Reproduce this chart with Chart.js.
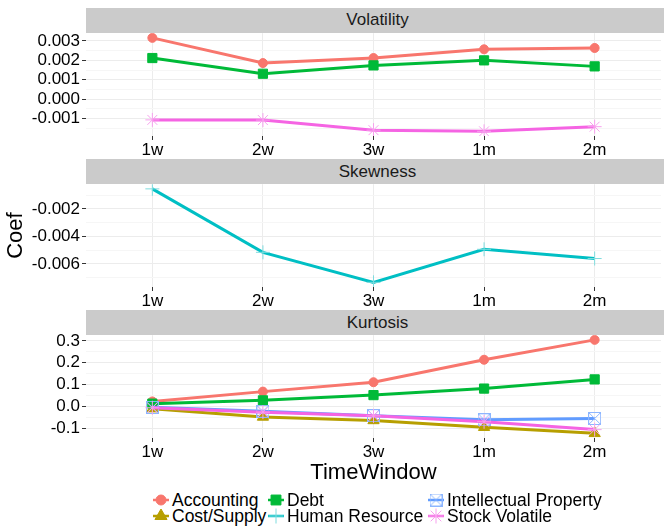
<!DOCTYPE html>
<html>
<head>
<meta charset="utf-8">
<script src="https://cdn.jsdelivr.net/npm/chart.js@4.4.1/dist/chart.umd.min.js"></script>
<style>
  html, body { margin: 0; padding: 0; background: #ffffff; overflow: hidden; width: 664px; height: 527px; }
  body { position: relative; font-family: "Liberation Sans", Arial, sans-serif; }
  canvas.panel { position: absolute; left: 0; }
  .strip { position: absolute; left: 86px; width: 583px; background: #cbcbcb; color: #1a1a1a;
           font-size: 17px; text-align: center; z-index: 5; box-sizing: border-box; }
  .leg { position: absolute; height: 16px; display: flex; align-items: center; white-space: nowrap;
         font-size: 17.5px; color: #000; }
  .leg canvas { width: 16px; height: 16px; margin-right: 3px; }
</style>
</head>
<body>
<div class="strip" id="s0">Volatility</div>
<div class="strip" id="s1">Skewness</div>
<div class="strip" id="s2">Kurtosis</div>
<canvas class="panel" id="c0"></canvas>
<canvas class="panel" id="c1"></canvas>
<canvas class="panel" id="c2"></canvas>
<div id="legend"></div>
<script>
// ---------------- data ----------------
const categories = ['1w', '2w', '3w', '1m', '2m'];
const panelTitles = ['Volatility', 'Skewness', 'Kurtosis'];
const seriesNames = ['Accounting', 'Cost/Supply', 'Debt', 'Human Resource', 'Intellectual Property', 'Stock Volatile'];

// Volatility panel
const volAccounting = [0.00316, 0.00186, 0.00212, 0.00257, 0.00264];
const volDebt       = [0.00212, 0.00131, 0.00174, 0.00200, 0.00169];
const volStock      = [-0.00107, -0.00108, -0.00160, -0.00166, -0.00142];
// Skewness panel
const skewHR        = [-0.00055, -0.00516, -0.00734, -0.00494, -0.00561];
// Kurtosis panel
const kurtAccounting = [0.023, 0.068, 0.111, 0.214, 0.305];
const kurtDebt       = [0.013, 0.028, 0.052, 0.082, 0.124];
const kurtCost       = [-0.010, -0.048, -0.064, -0.095, -0.123];
const kurtIP         = [-0.004, -0.022, -0.042, -0.061, -0.055];
const kurtStock      = [-0.006, -0.026, -0.043, -0.070, -0.106];

// tick labels
const volTicks  = [-0.001, 0.000, 0.001, 0.002, 0.003];
const skewTicks = [-0.006, -0.004, -0.002];
const kurtTicks = [-0.1, 0.0, 0.1, 0.2, 0.3];

// ---------------- styles ----------------
const FONT = '"Liberation Sans", Arial, sans-serif';
const colors = {
  'Accounting': '#F8766D', 'Cost/Supply': '#B79F00', 'Debt': '#00BA38',
  'Human Resource': '#00BFC4', 'Intellectual Property': '#619CFF', 'Stock Volatile': '#F564E3'
};
// custom "square with X" symbol for Intellectual Property
function makeBoxCross(size, color) {
  const c = document.createElement('canvas');
  c.width = size; c.height = size;
  const g = c.getContext('2d');
  g.strokeStyle = color; g.lineWidth = 1;
  g.strokeRect(0.5, 0.5, size - 1, size - 1);
  g.beginPath();
  g.moveTo(0.5, 0.5); g.lineTo(size - 0.5, size - 0.5);
  g.moveTo(size - 0.5, 0.5); g.lineTo(0.5, size - 0.5);
  g.stroke();
  return c;
}
const ipSymbol = makeBoxCross(13, '#8DB6FF');
const pointStyles = {
  'Accounting':            { style: 'circle',   r: 4.5, bw: 1, fill: true },
  'Cost/Supply':           { style: 'triangle', r: 6.5, bw: 1, fill: true },
  'Debt':                  { style: 'rect',     r: 6.5, bw: 1, fill: true },
  'Human Resource':        { style: 'cross',    r: 7,   bw: 1, fill: false, pc: '#7FDCDE' },
  'Intellectual Property': { style: ipSymbol,   r: 6.5, bw: 1, fill: false },
  'Stock Volatile':        { style: 'star',     r: 7,   bw: 1, fill: false, pc: '#F7A0EE' }
};

function ds(name, values) {
  const p = pointStyles[name];
  const col = colors[name];
  return {
    label: name,
    data: values.map((v, i) => ({ x: i, y: v })),
    borderColor: col,
    borderWidth: 3,
    backgroundColor: col,
    pointStyle: p.style,
    pointRadius: p.r,
    pointHoverRadius: p.r,
    pointBorderWidth: p.bw,
    pointBorderColor: p.pc || col,
    pointBackgroundColor: p.fill ? col : 'rgba(0,0,0,0)',
    tension: 0,
    fill: false
  };
}

// ---------------- layout ----------------
const stripTop = [8, 159, 310];
const plotTop = [32.5, 184, 335];
const plotH = 103;
const padTop = 12;
const xAxisH = [24, 24, 48];

panelTitles.forEach((t, i) => {
  const s = document.getElementById('s' + i);
  s.style.top = stripTop[i] + 'px';
  s.style.height = (plotTop[i] - stripTop[i]) + 'px';
  s.style.lineHeight = (plotTop[i] - stripTop[i]) + 'px';
});

function makePanel(i, datasets, majorTicks, decimals, yTitle, xTitle) {
  const canvas = document.getElementById('c' + i);
  const H = padTop + plotH + xAxisH[i];
  canvas.width = 669; canvas.height = H;
  canvas.style.width = '669px'; canvas.style.height = H + 'px';
  canvas.style.top = (plotTop[i] - padTop) + 'px';

  const all = datasets.flatMap(d => d.data.map(p => p.y));
  const lo = Math.min(...all), hi = Math.max(...all);
  const ex = (hi - lo) * 0.05;
  const ymin = lo - ex, ymax = hi + ex;
  const step = majorTicks[1] - majorTicks[0];
  const tickList = [];
  majorTicks.forEach(t => tickList.push({ value: t, minor: false }));
  const cand = new Set();
  majorTicks.forEach(t => { cand.add(+(t - step / 2).toFixed(8)); cand.add(+(t + step / 2).toFixed(8)); });
  cand.forEach(v => { if (v > ymin && v < ymax) tickList.push({ value: v, minor: true }); });
  tickList.sort((a, b) => a.value - b.value);

  return new Chart(canvas, {
    type: 'line',
    data: { datasets: datasets },
    options: {
      responsive: false,
      animation: false,
      devicePixelRatio: 1,
      layout: { padding: { top: padTop, left: 0, right: 0, bottom: 0 } },
      plugins: { legend: { display: false }, tooltip: { enabled: false } },
      scales: {
        x: {
          type: 'linear', min: -0.6, max: 4.6,
          afterBuildTicks: s => { s.ticks = categories.map((c, k) => ({ value: k })); },
          afterFit: s => { s.height = xAxisH[i]; },
          ticks: {
            callback: v => categories[v] !== undefined ? categories[v] : '',
            font: { family: FONT, size: 17 }, color: '#000', padding: 0,
            autoSkip: false, maxRotation: 0
          },
          grid: { color: '#ececec', lineWidth: 1, drawTicks: true, tickLength: 4, tickColor: '#333' },
          border: { display: false },
          title: xTitle ? { display: true, text: xTitle, font: { family: FONT, size: 22 }, color: '#000', padding: { top: 0, bottom: 0 } } : { display: false }
        },
        y: {
          type: 'linear', min: ymin, max: ymax,
          afterBuildTicks: s => { s.ticks = tickList.map(t => ({ value: t.value, minor: t.minor })); },
          afterFit: s => { s.width = 86; },
          ticks: {
            callback: (v, idx, ticks) => ticks[idx].minor ? '' : Number(v).toFixed(decimals),
            font: { family: FONT, size: 17 }, color: '#000', padding: 2, autoSkip: false
          },
          grid: {
            color: ctx => (ctx.tick && ctx.tick.minor) ? '#f6f6f6' : '#ececec',
            tickColor: ctx => (ctx.tick && ctx.tick.minor) ? 'rgba(0,0,0,0)' : '#333',
            lineWidth: 1, drawTicks: true, tickLength: 4
          },
          border: { display: false },
          title: yTitle ? { display: true, text: yTitle, font: { family: FONT, size: 22 }, color: '#000', padding: { top: 3, bottom: 0 } } : { display: false }
        }
      }
    }
  });
}

// dataset 0 is drawn on top in Chart.js, so list later factor levels first
makePanel(0, [ds('Stock Volatile', volStock), ds('Debt', volDebt), ds('Accounting', volAccounting)], volTicks, 3, null, null);
makePanel(1, [ds('Human Resource', skewHR)], skewTicks, 3, 'Coef', null);
makePanel(2, [ds('Stock Volatile', kurtStock), ds('Intellectual Property', kurtIP), ds('Debt', kurtDebt),
              ds('Cost/Supply', kurtCost), ds('Accounting', kurtAccounting)], kurtTicks, 1, null, 'TimeWindow');

// ---------------- legend ----------------
const legendLayout = [
  { name: 'Accounting', x: 153, y: 500 },
  { name: 'Cost/Supply', x: 153, y: 516 },
  { name: 'Debt', x: 268, y: 500 },
  { name: 'Human Resource', x: 268, y: 516 },
  { name: 'Intellectual Property', x: 428, y: 500 },
  { name: 'Stock Volatile', x: 428, y: 516 }
];
const legend = document.getElementById('legend');
legendLayout.forEach(item => {
  const d = document.createElement('div');
  d.className = 'leg';
  d.style.left = item.x + 'px';
  d.style.top = (item.y - 8) + 'px';
  const c = document.createElement('canvas');
  c.width = 16; c.height = 16;
  const g = c.getContext('2d');
  const col = colors[item.name];
  const p = pointStyles[item.name];
  g.strokeStyle = col; g.lineWidth = 2.5;
  g.beginPath(); g.moveTo(0, 8); g.lineTo(16, 8); g.stroke();
  g.fillStyle = col; g.strokeStyle = p.pc || col; g.lineWidth = p.bw;
  Chart.helpers.drawPoint(g, { pointStyle: p.style, radius: p.r + 0.5, rotation: 0, borderWidth: p.bw }, 8, 8);
  const span = document.createElement('span');
  span.textContent = item.name;
  d.appendChild(c); d.appendChild(span);
  legend.appendChild(d);
});
</script>
</body>
</html>
